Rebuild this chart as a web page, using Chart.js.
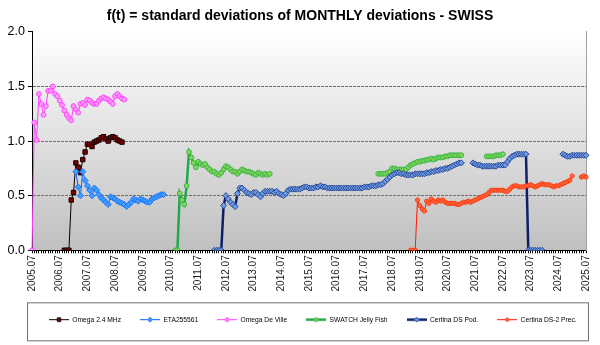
<!DOCTYPE html>
<html>
<head>
<meta charset="utf-8">
<script src="https://cdn.jsdelivr.net/npm/chart.js@4.4.1/dist/chart.umd.min.js"></script>
<style>
  html, body { margin: 0; padding: 0; background: #fff; }
  #wrap { width: 600px; height: 345px; }
</style>
</head>
<body>
<div id="wrap"><canvas id="sdChart"></canvas></div>
<script>
// Monthly categories 2005.07 ... 2025.07, labelled once a year (July)
const months = [];
for (let y = 2005; y <= 2025; y++) {
    for (let m = 1; m <= 12; m++) {
        if ((y === 2005 && m < 7) || (y === 2025 && m > 7)) continue;
        months.push(y + '.' + String(m).padStart(2, '0'));
    }
}
const labelMonth = '.07';
const yMin = 0, yMax = 2, yStep = 0.5;

const seriesNames = ['Omega 2.4 MHz', 'ETA255561', 'Omega De Ville', 'SWATCH Jelly Fish', 'Certina DS Pod.', 'Certina DS-2 Prec.'];

// Omega 2.4 MHz, from 2006.09
const omega24 = [0, 0, 0, 0.46, 0.53, 0.80, 0.76, 0.71, 0.83, 0.90, 0.97, 0.97, 0.95, 0.99, 1.00, 1.01, 1.03, 1.04, 1.02, 1.00, 1.03, 1.04, 1.03, 1.01, 1.00, 0.99];

// ETA255561, from 2007.02
const eta = [0.72, 0.58, 0.50, 0.72, 0.64, 0.59, 0.55, 0.50, 0.57, 0.55, 0.51, 0.48, 0.46, 0.44, 0.42, 0.49, 0.48, 0.47, 0.45, 0.44,
    0.43, 0.42, 0.40, 0.42, 0.44, 0.47, 0.46, 0.45, 0.47, 0.46, 0.45, 0.44, 0.44, 0.47, 0.48, 0.49, 0.50, 0.51, 0.51];

// Omega De Ville, from 2005.07
const deVille = [0, 1.17, 1.01, 1.43, 1.34, 1.24, 1.32, 1.46, 1.46, 1.50, 1.43, 1.41, 1.37, 1.33, 1.28, 1.24, 1.21, 1.19, 1.32, 1.29,
    1.26, 1.34, 1.35, 1.33, 1.38, 1.37, 1.35, 1.34, 1.34, 1.37, 1.39, 1.40, 1.39, 1.38, 1.36, 1.34, 1.41, 1.43, 1.41, 1.39, 1.38];

// SWATCH Jelly Fish: 2010.09, 2018.01, 2021.12
const swatchA = [0, 0, 0.52, 0.46, 0.42, 0.59, 0.90, 0.85, 0.80, 0.76, 0.81, 0.79, 0.78, 0.79, 0.76, 0.74, 0.72, 0.72, 0.70, 0.69,
    0.71, 0.74, 0.77, 0.76, 0.74, 0.72, 0.72, 0.70, 0.72, 0.74, 0.73, 0.72, 0.72, 0.71, 0.70, 0.69, 0.71, 0.70, 0.69, 0.70, 0.69, 0.70];
const swatchB = [0.70, 0.70, 0.70, 0.70, 0.71, 0.72, 0.75, 0.75, 0.74, 0.74, 0.74, 0.74, 0.74, 0.76, 0.78, 0.79, 0.80, 0.81, 0.81, 0.82,
    0.82, 0.83, 0.83, 0.84, 0.83, 0.84, 0.85, 0.85, 0.85, 0.86, 0.86, 0.87, 0.87, 0.87, 0.87, 0.87, 0.87];
const swatchC = [0.86, 0.86, 0.86, 0.86, 0.87, 0.87, 0.87, 0.88];

// Certina DS Pod.: 2012.02, 2021.06, 2024.09
const podA = [0, 0, 0, 0,
    0.41, 0.50, 0.47, 0.44, 0.42, 0.40, 0.52, 0.57, 0.57, 0.55,
    0.53, 0.52, 0.51, 0.53, 0.53, 0.51, 0.49, 0.52, 0.54, 0.54,
    0.54, 0.54, 0.53, 0.54, 0.52, 0.51, 0.50, 0.52, 0.55, 0.56,
    0.56, 0.56,
    0.56, 0.56, 0.57, 0.58, 0.58, 0.57, 0.57, 0.57, 0.58, 0.58,
    0.59, 0.58, 0.58, 0.57, 0.57, 0.57, 0.57, 0.57, 0.57, 0.57,
    0.57, 0.57, 0.57, 0.57, 0.57, 0.57, 0.57, 0.57, 0.57, 0.58, 0.58,
    0.58, 0.59, 0.59, 0.59, 0.60, 0.60, 0.61, 0.63, 0.65, 0.67,
    0.69, 0.70, 0.71, 0.71, 0.70, 0.70, 0.69, 0.69, 0.69, 0.69,
    0.70, 0.70, 0.70, 0.70, 0.70, 0.71, 0.71, 0.72, 0.72, 0.73,
    0.73, 0.74, 0.74, 0.75, 0.75, 0.76, 0.77, 0.78, 0.79, 0.80, 0.80];
const podB = [0.80, 0.79, 0.78, 0.78, 0.77, 0.77, 0.77, 0.77, 0.77, 0.77,
    0.77, 0.78, 0.78, 0.78, 0.78, 0.81, 0.84, 0.86, 0.87, 0.88,
    0.88, 0.88, 0.88, 0.88,
    0, 0, 0, 0, 0, 0, 0];
const podC = [0.88, 0.87, 0.86, 0.86, 0.87, 0.87, 0.87, 0.87, 0.87, 0.87, 0.87];

// Certina DS-2 Prec.: 2019.03, 2025.05
const precA = [0, 0, 0,
    0.46, 0.41, 0.38, 0.36, 0.45, 0.43, 0.47, 0.45, 0.44, 0.46, 0.45, 0.46, 0.44, 0.43, 0.43, 0.43,
    0.43, 0.42, 0.42, 0.43, 0.44, 0.44, 0.45, 0.44, 0.45, 0.46, 0.47,
    0.48, 0.49, 0.50, 0.51, 0.53, 0.55, 0.55, 0.55, 0.55, 0.55,
    0.55, 0.54, 0.54, 0.56, 0.58, 0.59, 0.59, 0.58, 0.58, 0.58,
    0.59, 0.59, 0.60, 0.59, 0.58, 0.59, 0.60, 0.61, 0.60, 0.60,
    0.60, 0.59, 0.58, 0.59, 0.59, 0.60, 0.61, 0.62, 0.63, 0.64,
    0.68];
const precB = [0.67, 0.68, 0.67];

// put segments onto the monthly axis, null elsewhere
function place(segments) {
    const out = new Array(months.length).fill(null);
    segments.forEach(([start, values]) => {
        const i0 = months.indexOf(start);
        values.forEach((v, k) => { out[i0 + k] = v; });
    });
    return out;
}

const seriesData = [
    place([['2006.09', omega24]]),
    place([['2007.02', eta]]),
    place([['2005.07', deVille]]),
    place([['2010.09', swatchA], ['2018.01', swatchB], ['2021.12', swatchC]]),
    place([['2012.02', podA], ['2021.06', podB], ['2024.09', podC]]),
    place([['2019.03', precA], ['2025.05', precB]])
];

const looks = [
    { line: '#000000', width: 1, style: 'rect', radius: 3.1, fill: '#7a0000', edge: '#1a0000' },
    { line: '#0a5cff', width: 1, style: 'rectRot', radius: 3, fill: '#3fa0ff', edge: '#1f6fff' },
    { line: '#ff40ff', width: 1, style: 'circle', radius: 2.4, fill: '#ff9cff', edge: '#ff44ff' },
    { line: '#1fa84a', width: 2.5, style: 'circle', radius: 2.4, fill: '#80d957', edge: '#3cb44a' },
    { line: '#0b1f6b', width: 2.5, style: 'rectRot', radius: 3, fill: '#6f9be0', edge: '#2a4a9a' },
    { line: '#ff1a00', width: 1, style: 'circle', radius: 2.1, fill: '#ff6a3d', edge: '#ff3a10' }
];

// small line + marker picture for the legend
function legendSample(lk) {
    const c = document.createElement('canvas');
    c.width = 20; c.height = 9;
    const g = c.getContext('2d');
    g.strokeStyle = lk.line;
    g.lineWidth = lk.width;
    g.beginPath(); g.moveTo(0, 4.5); g.lineTo(20, 4.5); g.stroke();
    g.fillStyle = lk.fill;
    g.strokeStyle = lk.edge;
    g.lineWidth = 1;
    Chart.helpers.drawPoint(g, { pointStyle: lk.style, radius: lk.radius * 0.8, rotation: 0, borderWidth: 1 }, 10, 4.5);
    return c;
}

const plotBackground = {
    id: 'plotBackground',
    beforeDraw(chart) {
        const { ctx, chartArea: a } = chart;
        const g = ctx.createLinearGradient(0, a.top, 0, a.bottom);
        g.addColorStop(0, '#ffffff');
        g.addColorStop(1, '#c0c0c0');
        ctx.save();
        ctx.fillStyle = g;
        ctx.fillRect(a.left, a.top, a.right - a.left, a.bottom - a.top);
        ctx.restore();
    }
};

const legendFrame = {
    id: 'legendFrame',
    afterLayout(chart) {
        const lg = chart.legend;
        const pad = lg.options.labels.padding;
        const startX = (lg.left + pad + lg.right - lg.lineWidths[0]) / 2;
        const shift = chart.chartArea.left + 17 - startX;
        lg.left += shift;
        lg.right += shift;
    },
    afterDraw(chart) {
        const { ctx, chartArea: a } = chart;
        const top = chart.legend.top + 5;
        ctx.save();
        ctx.strokeStyle = '#707070';
        ctx.lineWidth = 1;
        ctx.strokeRect(a.left - 4.5, top + 0.5, a.right - a.left + 7, 38);
        ctx.restore();
    }
};

Chart.defaults.font.family = "'Liberation Sans', Arial, sans-serif";
Chart.defaults.color = '#000';

const ctx = document.getElementById('sdChart').getContext('2d');
const sdChart = new Chart(ctx, {
    type: 'line',
    data: {
        labels: months,
        datasets: seriesNames.map((name, i) => ({
            label: name,
            data: seriesData[i],
            borderColor: looks[i].line,
            borderWidth: looks[i].width,
            pointStyle: looks[i].style,
            pointRadius: looks[i].radius,
            pointBackgroundColor: looks[i].fill,
            pointBorderColor: looks[i].edge,
            pointBorderWidth: 1,
            tension: 0,
            spanGaps: false,
            order: seriesNames.length - i
        }))
    },
    options: {
        responsive: true,
        maintainAspectRatio: false,
        animation: false,
        layout: { padding: { left: 0, right: 0, top: 0, bottom: 12 } },
        scales: {
            x: {
                type: 'category',
                offset: false,
                grid: { display: true, drawOnChartArea: false, drawTicks: true, tickLength: 3, color: '#000', tickColor: '#000' },
                border: { display: true, color: '#000', width: 1 },
                ticks: {
                    autoSkip: false,
                    minRotation: 90,
                    maxRotation: 90,
                    padding: 2,
                    font: { size: 10 },
                    color: '#222',
                    callback: function (val) {
                        const l = this.getLabelForValue(val);
                        return l.endsWith(labelMonth) ? l : '';
                    }
                },
                afterFit(scale) { scale.height = 47; }
            },
            y: {
                min: yMin,
                max: yMax,
                ticks: {
                    stepSize: yStep,
                    padding: 3,
                    font: { size: 12.5 },
                    color: '#000',
                    callback: v => v.toFixed(1)
                },
                grid: {
                    color: c => (c.tick.value === yMin || c.tick.value === yMax) ? 'rgba(0,0,0,0)' : '#707070',
                    tickColor: '#000',
                    tickLength: 4
                },
                border: { display: true, color: '#000', width: 1, dash: [3, 1] },
                afterFit(scale) { scale.width = 32; }
            },
            yRight: {
                position: 'right',
                display: true,
                grid: { display: false },
                ticks: { display: false },
                border: { display: true, color: '#a0a0a0', width: 1 },
                afterFit(scale) { scale.width = 11; }
            }
        },
        plugins: {
            title: {
                display: true,
                text: 'f(t) = standard deviations of MONTHLY deviations - SWISS',
                font: { size: 14, weight: 'bold' },
                color: '#000',
                padding: { top: 8, bottom: 7 }
            },
            legend: {
                position: 'bottom',
                labels: {
                    usePointStyle: true,
                    pointStyleWidth: 20,
                    padding: 19,
                    font: { size: 6.7 },
                    color: '#333',
                    generateLabels: chart => chart.data.datasets.map((ds, i) => ({
                        text: ds.label,
                        pointStyle: legendSample(looks[i]),
                        fillStyle: 'rgba(0,0,0,0)',
                        strokeStyle: 'rgba(0,0,0,0)',
                        lineWidth: 0,
                        hidden: false,
                        datasetIndex: i
                    }))
                }
            },
            tooltip: { enabled: false }
        }
    },
    plugins: [plotBackground, legendFrame]
});
</script>
</body>
</html>
